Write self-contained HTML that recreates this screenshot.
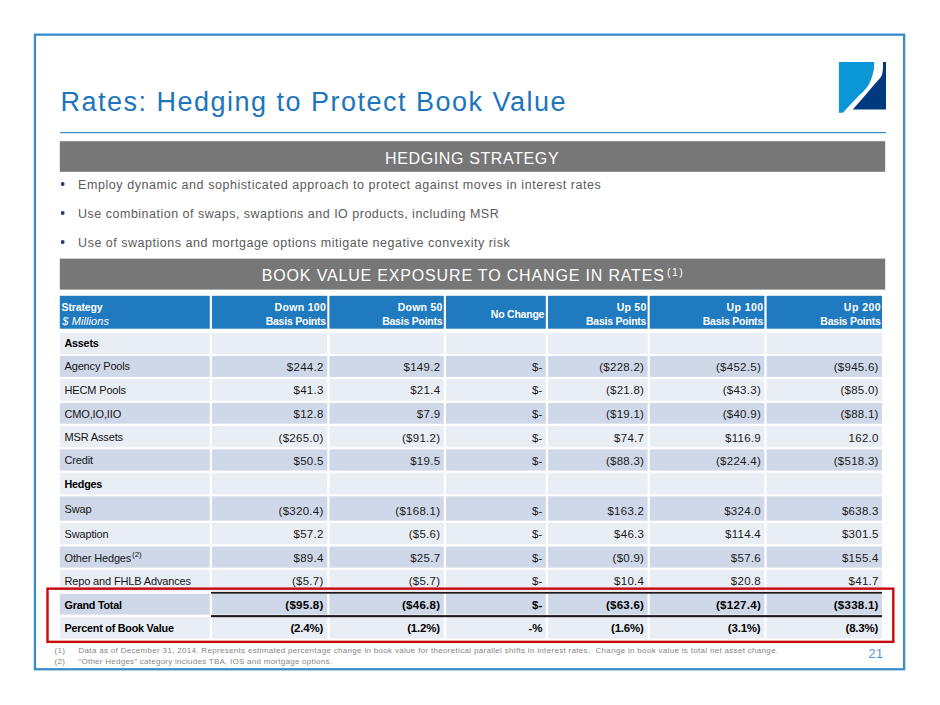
<!DOCTYPE html>
<html><head><meta charset="utf-8"><title>Rates: Hedging to Protect Book Value</title>
<style>
html,body{margin:0;padding:0;background:#fff;}
body{width:940px;height:705px;position:relative;overflow:hidden;font-family:"Liberation Sans",sans-serif;}
.a{position:absolute;white-space:nowrap;}
svg.bg{position:absolute;left:0;top:0;}
.title{font-size:27px;line-height:32px;color:#1c75bc;letter-spacing:1.49px;}
.bt{color:#fff;font-size:16px;line-height:20px;}
.bul{font-size:12.5px;line-height:16px;color:#5a5a5a;left:78.3px;}
.h{color:#fff;font-weight:bold;font-size:10.5px;line-height:14px;}
.t{font-size:11px;line-height:14px;color:#151515;letter-spacing:-0.15px;left:64.5px;}
.tb{font-weight:bold;font-size:10.8px;letter-spacing:-0.23px;color:#000;}
.n{font-size:11.5px;line-height:14px;color:#1a1a1a;letter-spacing:0.27px;}
.nb{font-weight:bold;color:#000;}
.sp{font-size:8px;letter-spacing:0;position:relative;top:-5.2px;margin-left:0.8px;}
.fn{font-size:8px;line-height:11px;color:#848484;letter-spacing:0.315px;}
</style></head><body>
<svg class="bg" width="940" height="705" viewBox="0 0 940 705">
<rect x="34.95" y="34.65" width="869.2" height="634.6" fill="none" stroke="#3b8ccd" stroke-width="2.3"/>
<rect x="60.0" y="132.0" width="826.0" height="1.2" fill="#3b8ccd"/>
<rect x="59.8" y="141.2" width="825.4" height="30.6" fill="#777777"/>
<rect x="59.8" y="258.6" width="825.4" height="31.0" fill="#777777"/>
<rect x="59.8" y="295.8" width="150.0" height="32.9" fill="#1f7abf"/>
<rect x="211.9" y="295.8" width="115.4" height="32.9" fill="#1f7abf"/>
<rect x="329.4" y="295.8" width="114.4" height="32.9" fill="#1f7abf"/>
<rect x="446.0" y="295.8" width="99.8" height="32.9" fill="#1f7abf"/>
<rect x="548.0" y="295.8" width="99.6" height="32.9" fill="#1f7abf"/>
<rect x="649.7" y="295.8" width="114.7" height="32.9" fill="#1f7abf"/>
<rect x="766.6" y="295.8" width="115.4" height="32.9" fill="#1f7abf"/>
<rect x="59.8" y="333.2" width="150.0" height="20.7" fill="#e9edf4"/>
<rect x="211.9" y="333.2" width="115.4" height="20.7" fill="#e9edf4"/>
<rect x="329.4" y="333.2" width="114.4" height="20.7" fill="#e9edf4"/>
<rect x="446.0" y="333.2" width="99.8" height="20.7" fill="#e9edf4"/>
<rect x="548.0" y="333.2" width="99.6" height="20.7" fill="#e9edf4"/>
<rect x="649.7" y="333.2" width="114.7" height="20.7" fill="#e9edf4"/>
<rect x="766.6" y="333.2" width="115.4" height="20.7" fill="#e9edf4"/>
<rect x="59.8" y="356.0" width="150.0" height="20.9" fill="#cfd8e9"/>
<rect x="211.9" y="356.0" width="115.4" height="20.9" fill="#cfd8e9"/>
<rect x="329.4" y="356.0" width="114.4" height="20.9" fill="#cfd8e9"/>
<rect x="446.0" y="356.0" width="99.8" height="20.9" fill="#cfd8e9"/>
<rect x="548.0" y="356.0" width="99.6" height="20.9" fill="#cfd8e9"/>
<rect x="649.7" y="356.0" width="114.7" height="20.9" fill="#cfd8e9"/>
<rect x="766.6" y="356.0" width="115.4" height="20.9" fill="#cfd8e9"/>
<rect x="59.8" y="379.0" width="150.0" height="21.7" fill="#e9edf4"/>
<rect x="211.9" y="379.0" width="115.4" height="21.7" fill="#e9edf4"/>
<rect x="329.4" y="379.0" width="114.4" height="21.7" fill="#e9edf4"/>
<rect x="446.0" y="379.0" width="99.8" height="21.7" fill="#e9edf4"/>
<rect x="548.0" y="379.0" width="99.6" height="21.7" fill="#e9edf4"/>
<rect x="649.7" y="379.0" width="114.7" height="21.7" fill="#e9edf4"/>
<rect x="766.6" y="379.0" width="115.4" height="21.7" fill="#e9edf4"/>
<rect x="59.8" y="403.0" width="150.0" height="20.7" fill="#cfd8e9"/>
<rect x="211.9" y="403.0" width="115.4" height="20.7" fill="#cfd8e9"/>
<rect x="329.4" y="403.0" width="114.4" height="20.7" fill="#cfd8e9"/>
<rect x="446.0" y="403.0" width="99.8" height="20.7" fill="#cfd8e9"/>
<rect x="548.0" y="403.0" width="99.6" height="20.7" fill="#cfd8e9"/>
<rect x="649.7" y="403.0" width="114.7" height="20.7" fill="#cfd8e9"/>
<rect x="766.6" y="403.0" width="115.4" height="20.7" fill="#cfd8e9"/>
<rect x="59.8" y="426.0" width="150.0" height="21.2" fill="#e9edf4"/>
<rect x="211.9" y="426.0" width="115.4" height="21.2" fill="#e9edf4"/>
<rect x="329.4" y="426.0" width="114.4" height="21.2" fill="#e9edf4"/>
<rect x="446.0" y="426.0" width="99.8" height="21.2" fill="#e9edf4"/>
<rect x="548.0" y="426.0" width="99.6" height="21.2" fill="#e9edf4"/>
<rect x="649.7" y="426.0" width="114.7" height="21.2" fill="#e9edf4"/>
<rect x="766.6" y="426.0" width="115.4" height="21.2" fill="#e9edf4"/>
<rect x="59.8" y="449.3" width="150.0" height="21.3" fill="#cfd8e9"/>
<rect x="211.9" y="449.3" width="115.4" height="21.3" fill="#cfd8e9"/>
<rect x="329.4" y="449.3" width="114.4" height="21.3" fill="#cfd8e9"/>
<rect x="446.0" y="449.3" width="99.8" height="21.3" fill="#cfd8e9"/>
<rect x="548.0" y="449.3" width="99.6" height="21.3" fill="#cfd8e9"/>
<rect x="649.7" y="449.3" width="114.7" height="21.3" fill="#cfd8e9"/>
<rect x="766.6" y="449.3" width="115.4" height="21.3" fill="#cfd8e9"/>
<rect x="59.8" y="472.8" width="150.0" height="21.6" fill="#e9edf4"/>
<rect x="211.9" y="472.8" width="115.4" height="21.6" fill="#e9edf4"/>
<rect x="329.4" y="472.8" width="114.4" height="21.6" fill="#e9edf4"/>
<rect x="446.0" y="472.8" width="99.8" height="21.6" fill="#e9edf4"/>
<rect x="548.0" y="472.8" width="99.6" height="21.6" fill="#e9edf4"/>
<rect x="649.7" y="472.8" width="114.7" height="21.6" fill="#e9edf4"/>
<rect x="766.6" y="472.8" width="115.4" height="21.6" fill="#e9edf4"/>
<rect x="59.8" y="496.4" width="150.0" height="24.3" fill="#cfd8e9"/>
<rect x="211.9" y="496.4" width="115.4" height="24.3" fill="#cfd8e9"/>
<rect x="329.4" y="496.4" width="114.4" height="24.3" fill="#cfd8e9"/>
<rect x="446.0" y="496.4" width="99.8" height="24.3" fill="#cfd8e9"/>
<rect x="548.0" y="496.4" width="99.6" height="24.3" fill="#cfd8e9"/>
<rect x="649.7" y="496.4" width="114.7" height="24.3" fill="#cfd8e9"/>
<rect x="766.6" y="496.4" width="115.4" height="24.3" fill="#cfd8e9"/>
<rect x="59.8" y="523.0" width="150.0" height="21.2" fill="#e9edf4"/>
<rect x="211.9" y="523.0" width="115.4" height="21.2" fill="#e9edf4"/>
<rect x="329.4" y="523.0" width="114.4" height="21.2" fill="#e9edf4"/>
<rect x="446.0" y="523.0" width="99.8" height="21.2" fill="#e9edf4"/>
<rect x="548.0" y="523.0" width="99.6" height="21.2" fill="#e9edf4"/>
<rect x="649.7" y="523.0" width="114.7" height="21.2" fill="#e9edf4"/>
<rect x="766.6" y="523.0" width="115.4" height="21.2" fill="#e9edf4"/>
<rect x="59.8" y="546.5" width="150.0" height="21.1" fill="#cfd8e9"/>
<rect x="211.9" y="546.5" width="115.4" height="21.1" fill="#cfd8e9"/>
<rect x="329.4" y="546.5" width="114.4" height="21.1" fill="#cfd8e9"/>
<rect x="446.0" y="546.5" width="99.8" height="21.1" fill="#cfd8e9"/>
<rect x="548.0" y="546.5" width="99.6" height="21.1" fill="#cfd8e9"/>
<rect x="649.7" y="546.5" width="114.7" height="21.1" fill="#cfd8e9"/>
<rect x="766.6" y="546.5" width="115.4" height="21.1" fill="#cfd8e9"/>
<rect x="59.8" y="569.7" width="150.0" height="21.5" fill="#e9edf4"/>
<rect x="211.9" y="569.7" width="115.4" height="21.5" fill="#e9edf4"/>
<rect x="329.4" y="569.7" width="114.4" height="21.5" fill="#e9edf4"/>
<rect x="446.0" y="569.7" width="99.8" height="21.5" fill="#e9edf4"/>
<rect x="548.0" y="569.7" width="99.6" height="21.5" fill="#e9edf4"/>
<rect x="649.7" y="569.7" width="114.7" height="21.5" fill="#e9edf4"/>
<rect x="766.6" y="569.7" width="115.4" height="21.5" fill="#e9edf4"/>
<rect x="59.8" y="593.7" width="150.0" height="20.9" fill="#cfd8e9"/>
<rect x="211.9" y="593.7" width="115.4" height="20.9" fill="#cfd8e9"/>
<rect x="329.4" y="593.7" width="114.4" height="20.9" fill="#cfd8e9"/>
<rect x="446.0" y="593.7" width="99.8" height="20.9" fill="#cfd8e9"/>
<rect x="548.0" y="593.7" width="99.6" height="20.9" fill="#cfd8e9"/>
<rect x="649.7" y="593.7" width="114.7" height="20.9" fill="#cfd8e9"/>
<rect x="766.6" y="593.7" width="115.4" height="20.9" fill="#cfd8e9"/>
<rect x="59.8" y="617.1" width="150.0" height="21.5" fill="#e9edf4"/>
<rect x="211.9" y="617.1" width="115.4" height="21.5" fill="#e9edf4"/>
<rect x="329.4" y="617.1" width="114.4" height="21.5" fill="#e9edf4"/>
<rect x="446.0" y="617.1" width="99.8" height="21.5" fill="#e9edf4"/>
<rect x="548.0" y="617.1" width="99.6" height="21.5" fill="#e9edf4"/>
<rect x="649.7" y="617.1" width="114.7" height="21.5" fill="#e9edf4"/>
<rect x="766.6" y="617.1" width="115.4" height="21.5" fill="#e9edf4"/>
<rect x="211.0" y="591.9" width="671.0" height="1.8" fill="#1a1a1a"/>
<rect x="211.0" y="615.1" width="671.0" height="2.1" fill="#1a1a1a"/>
<rect x="47.5" y="588.65" width="845.8" height="53.2" fill="none" stroke="#c8090b" stroke-width="2.4"/>
<path d="M838.9 62.1 L874.1 62.1 C874.3 68 873.8 71 872.6 74.8 C871.5 78.5 870.5 81.5 868.6 84.7 C866 89 863 92 859.7 94.7 L845.8 109.6 L843 112.7 L838.9 112.7 Z" fill="#0b96d6"/>
<path d="M886 62.1 L883 62.1 C883.2 68 882.8 71.5 882 74.8 C881.2 77 880 78.5 878.6 79.8 C877 81.5 875.5 83 874.1 84.7 L865.7 94.7 L852.8 109.4 L886 109.4 Z" fill="#003a7e"/>
<circle cx="62.7" cy="184" r="1.9" fill="#1f3a7a"/>
<circle cx="62.7" cy="213" r="1.9" fill="#1f3a7a"/>
<circle cx="62.7" cy="242" r="1.9" fill="#1f3a7a"/>
</svg>
<div class="a title" style="left:60.6px;top:85.74px;">Rates: Hedging to Protect Book Value</div>
<div class="a bt" style="left:385.0px;top:148.66px;letter-spacing:0.63px;">HEDGING STRATEGY</div>
<div class="a bt" style="left:261.8px;top:265.76px;letter-spacing:0.83px;">BOOK VALUE EXPOSURE TO CHANGE IN RATES<span style="font-size:10.5px;letter-spacing:1.4px;position:relative;top:-5.2px;margin-left:2.4px;">(1)</span></div>
<div class="a bul" style="left:78.1px;top:176.52px;letter-spacing:0.555px;">Employ dynamic and sophisticated approach to protect against moves in interest rates</div>
<div class="a bul" style="left:78.1px;top:205.87px;letter-spacing:0.495px;">Use combination of swaps, swaptions and IO products, including MSR</div>
<div class="a bul" style="left:78.1px;top:234.87px;letter-spacing:0.515px;">Use of swaptions and mortgage options mitigate negative convexity risk</div>
<div class="a h" style="left:61.6px;top:299.76px;letter-spacing:-0.16px;">Strategy</div>
<div class="a h" style="left:62.3px;top:314.39px;font-weight:normal;font-style:italic;font-size:11px;letter-spacing:0.1px;">$ Millions</div>
<div class="a h" style="right:613.8px;top:299.66px;letter-spacing:0.33px;">Down 100</div>
<div class="a h" style="right:614.1px;top:313.96px;letter-spacing:-0.23px;">Basis Points</div>
<div class="a h" style="right:497.3px;top:299.66px;letter-spacing:0.27px;">Down 50</div>
<div class="a h" style="right:497.6px;top:313.96px;letter-spacing:-0.23px;">Basis Points</div>
<div class="a h" style="right:395.8px;top:306.76px;letter-spacing:-0.23px;">No Change</div>
<div class="a h" style="right:293.5px;top:299.66px;letter-spacing:0.25px;">Up 50</div>
<div class="a h" style="right:293.8px;top:313.96px;letter-spacing:-0.23px;">Basis Points</div>
<div class="a h" style="right:176.6px;top:299.66px;letter-spacing:0.41px;">Up 100</div>
<div class="a h" style="right:177.0px;top:313.96px;letter-spacing:-0.23px;">Basis Points</div>
<div class="a h" style="right:58.9px;top:299.66px;letter-spacing:0.47px;">Up 200</div>
<div class="a h" style="right:59.4px;top:313.96px;letter-spacing:-0.23px;">Basis Points</div>
<div class="a t tb" style="top:336.06px;">Assets</div>
<div class="a t" style="top:359.49px;">Agency Pools</div>
<div class="a n" style="right:616.4px;top:360.02px;">$244.2</div>
<div class="a n" style="right:499.7px;top:360.02px;">$149.2</div>
<div class="a n" style="right:397.3px;top:360.02px;">$-</div>
<div class="a n" style="right:295.8px;top:360.02px;">($228.2)</div>
<div class="a n" style="right:179.0px;top:360.02px;">($452.5)</div>
<div class="a n" style="right:61.3px;top:360.02px;">($945.6)</div>
<div class="a t" style="top:382.99px;">HECM Pools</div>
<div class="a n" style="right:616.4px;top:383.42px;">$41.3</div>
<div class="a n" style="right:499.7px;top:383.42px;">$21.4</div>
<div class="a n" style="right:397.3px;top:383.42px;">$-</div>
<div class="a n" style="right:295.8px;top:383.42px;">($21.8)</div>
<div class="a n" style="right:179.0px;top:383.42px;">($43.3)</div>
<div class="a n" style="right:61.3px;top:383.42px;">($85.0)</div>
<div class="a t" style="top:406.79px;">CMO,IO,IIO</div>
<div class="a n" style="right:616.4px;top:407.02px;">$12.8</div>
<div class="a n" style="right:499.7px;top:407.02px;">$7.9</div>
<div class="a n" style="right:397.3px;top:407.02px;">$-</div>
<div class="a n" style="right:295.8px;top:407.02px;">($19.1)</div>
<div class="a n" style="right:179.0px;top:407.02px;">($40.9)</div>
<div class="a n" style="right:61.3px;top:407.02px;">($88.1)</div>
<div class="a t" style="top:429.89px;">MSR Assets</div>
<div class="a n" style="right:616.4px;top:430.52px;">($265.0)</div>
<div class="a n" style="right:499.7px;top:430.52px;">($91.2)</div>
<div class="a n" style="right:397.3px;top:430.52px;">$-</div>
<div class="a n" style="right:295.8px;top:430.52px;">$74.7</div>
<div class="a n" style="right:179.0px;top:430.52px;">$116.9</div>
<div class="a n" style="right:61.3px;top:430.52px;">162.0</div>
<div class="a t" style="top:453.19px;">Credit</div>
<div class="a n" style="right:616.4px;top:454.02px;">$50.5</div>
<div class="a n" style="right:499.7px;top:454.02px;">$19.5</div>
<div class="a n" style="right:397.3px;top:454.02px;">$-</div>
<div class="a n" style="right:295.8px;top:454.02px;">($88.3)</div>
<div class="a n" style="right:179.0px;top:454.02px;">($224.4)</div>
<div class="a n" style="right:61.3px;top:454.02px;">($518.3)</div>
<div class="a t tb" style="top:476.56px;">Hedges</div>
<div class="a t" style="top:501.79px;">Swap</div>
<div class="a n" style="right:616.4px;top:504.02px;">($320.4)</div>
<div class="a n" style="right:499.7px;top:504.02px;">($168.1)</div>
<div class="a n" style="right:397.3px;top:504.02px;">$-</div>
<div class="a n" style="right:295.8px;top:504.02px;">$163.2</div>
<div class="a n" style="right:179.0px;top:504.02px;">$324.0</div>
<div class="a n" style="right:61.3px;top:504.02px;">$638.3</div>
<div class="a t" style="top:526.89px;">Swaption</div>
<div class="a n" style="right:616.4px;top:527.02px;">$57.2</div>
<div class="a n" style="right:499.7px;top:527.02px;">($5.6)</div>
<div class="a n" style="right:397.3px;top:527.02px;">$-</div>
<div class="a n" style="right:295.8px;top:527.02px;">$46.3</div>
<div class="a n" style="right:179.0px;top:527.02px;">$114.4</div>
<div class="a n" style="right:61.3px;top:527.02px;">$301.5</div>
<div class="a t" style="top:550.89px;">Other Hedges<span class="sp">(2)</span></div>
<div class="a n" style="right:616.4px;top:551.02px;">$89.4</div>
<div class="a n" style="right:499.7px;top:551.02px;">$25.7</div>
<div class="a n" style="right:397.3px;top:551.02px;">$-</div>
<div class="a n" style="right:295.8px;top:551.02px;">($0.9)</div>
<div class="a n" style="right:179.0px;top:551.02px;">$57.6</div>
<div class="a n" style="right:61.3px;top:551.02px;">$155.4</div>
<div class="a t" style="top:573.69px;">Repo and FHLB Advances</div>
<div class="a n" style="right:616.4px;top:574.02px;">($5.7)</div>
<div class="a n" style="right:499.7px;top:574.02px;">($5.7)</div>
<div class="a n" style="right:397.3px;top:574.02px;">$-</div>
<div class="a n" style="right:295.8px;top:574.02px;">$10.4</div>
<div class="a n" style="right:179.0px;top:574.02px;">$20.8</div>
<div class="a n" style="right:61.3px;top:574.02px;">$41.7</div>
<div class="a t tb" style="top:597.56px;">Grand Total</div>
<div class="a n nb" style="right:616.4px;top:598.02px;">($95.8)</div>
<div class="a n nb" style="right:499.7px;top:598.02px;">($46.8)</div>
<div class="a n nb" style="right:397.3px;top:598.02px;">$-</div>
<div class="a n nb" style="right:295.8px;top:598.02px;">($63.6)</div>
<div class="a n nb" style="right:179.0px;top:598.02px;">($127.4)</div>
<div class="a n nb" style="right:61.3px;top:598.02px;">($338.1)</div>
<div class="a t tb" style="top:620.86px;">Percent of Book Value</div>
<div class="a n nb" style="right:616.9px;top:621.42px;letter-spacing:-0.2px;">(2.4%)</div>
<div class="a n nb" style="right:500.2px;top:621.42px;letter-spacing:-0.2px;">(1.2%)</div>
<div class="a n nb" style="right:397.8px;top:621.42px;letter-spacing:-0.2px;">-%</div>
<div class="a n nb" style="right:296.3px;top:621.42px;letter-spacing:-0.2px;">(1.6%)</div>
<div class="a n nb" style="right:179.5px;top:621.42px;letter-spacing:-0.2px;">(3.1%)</div>
<div class="a n nb" style="right:61.8px;top:621.42px;letter-spacing:-0.2px;">(8.3%)</div>
<div class="a fn" style="left:54.6px;top:644.83px;">(1)</div>
<div class="a fn" style="left:78.5px;top:644.83px;white-space:pre;">Data as of December 31, 2014. Represents estimated percentage change in book value for theoretical parallel shifts in interest rates.  Change in book value is total net asset change.</div>
<div class="a fn" style="left:54.6px;top:655.93px;">(2)</div>
<div class="a fn" style="left:78.5px;top:655.93px;letter-spacing:0.26px;">&ldquo;Other Hedges&rdquo; category includes TBA, IOS and mortgage options.</div>
<div class="a " style="left:868.6px;top:646.27px;font-size:12.5px;line-height:16px;color:#4a9ad4;letter-spacing:0.5px;">21</div>
</body></html>
